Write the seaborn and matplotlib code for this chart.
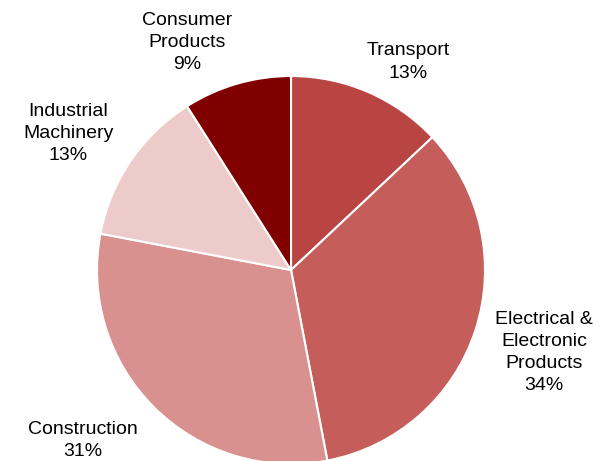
import matplotlib
matplotlib.use("Agg")
import matplotlib.pyplot as plt
import seaborn as sns

# End-use share of demand
categories = ["Transport", "Electrical &\nElectronic\nProducts", "Construction",
              "Industrial\nMachinery", "Consumer\nProducts"]
shares = [13, 34, 31, 13, 9]
colors = ["#B94543", "#C55E5B", "#D8918F", "#EECBCB", "#800000"]

# Label anchor points in pie units (centre = 0,0; radius = 1)
label_x = [0.603, 1.304, -1.072, -1.149, -0.536]
label_y = [1.072, -0.425, -0.878, 0.703, 1.173]

sns.set_theme(style="white")
plt.rcParams["font.family"] = ["Liberation Sans", "DejaVu Sans"]

fig = plt.figure(figsize=(6.04, 4.61), dpi=100)
ax = fig.add_axes([0.1606, -0.0065, 0.6424, 0.8416])

ax.pie(shares, colors=colors, startangle=90, counterclock=False, radius=1.0,
       wedgeprops=dict(edgecolor="white", linewidth=1.5))
ax.set_xlim(-1, 1)
ax.set_ylim(-1, 1)
ax.set_aspect("equal")
ax.axis("off")

for name, val, x, y in zip(categories, shares, label_x, label_y):
    ax.text(x, y, f"{name}\n{val}%", ha="center", va="center",
            multialignment="center", fontsize=14, linespacing=1.4,
            color="#000000", clip_on=False)

fig.savefig("out.png", dpi=100)
